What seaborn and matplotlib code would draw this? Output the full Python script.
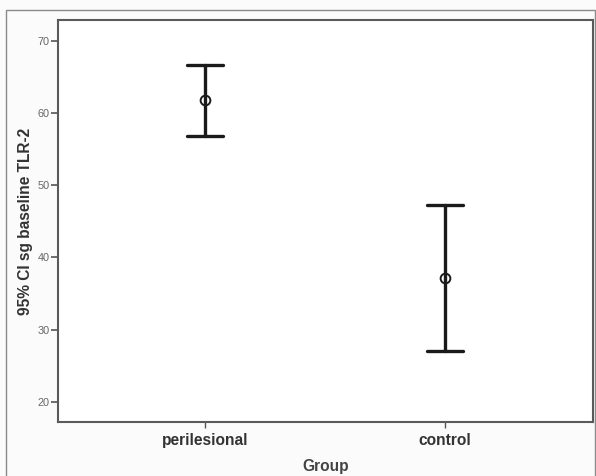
import numpy as np
import pandas as pd
import matplotlib
matplotlib.use("Agg")
import matplotlib.pyplot as plt
import seaborn as sns
from matplotlib.patches import Rectangle

# Group summaries: 95% CI bounds and mean of sg baseline TLR-2
groups = ["perilesional", "control"]
ci_lower = [56.8, 27.0]
means = [61.8, 37.1]
ci_upper = [66.7, 47.2]

# Long form: median of (lower, mean, upper) is the mean, full range is the CI
long = pd.DataFrame({
    "Group": np.repeat(groups, 3),
    "value": np.ravel(np.column_stack([ci_lower, means, ci_upper])),
})

sns.set_theme(style="white")
plt.rcParams["font.family"] = ["Liberation Sans", "DejaVu Sans"]

fig = plt.figure(figsize=(5.96, 4.76), dpi=100)
fig.patch.set_facecolor("#fbfbfb")
ax = fig.add_axes([58 / 596, 1 - 422 / 476, 535 / 596, 402 / 476])
ax.set_facecolor("white")

sns.pointplot(
    data=long, x="Group", y="value", order=groups,
    estimator="median", errorbar=("pi", 100),
    capsize=0.15, linestyle="none", color="#1a1a1a",
    marker="o", markersize=7, markerfacecolor="none",
    markeredgewidth=1.4, err_kws={"linewidth": 2.4}, ax=ax,
)

ax.set_xlim(-0.612, 1.617)
ax.set_ylim(17.2, 72.9)
ax.set_yticks([20, 30, 40, 50, 60, 70])

for s in ax.spines.values():
    s.set_color("#5a5a5a")
    s.set_linewidth(1.5)

ax.tick_params(axis="y", direction="out", length=5, width=1.2, color="#555555",
               labelsize=7.8, labelcolor="#666666", pad=1, left=True)
ax.tick_params(axis="x", direction="out", length=4, width=1.0, color="#555555",
               labelsize=11.2, labelcolor="#333333", pad=4, bottom=True)
for lbl in ax.get_xticklabels():
    lbl.set_fontweight("bold")

ax.set_xlabel("Group", fontsize=11.2, fontweight="bold", color="#444444", labelpad=8)
ax.set_ylabel("95% CI sg baseline TLR-2", fontsize=11.2, fontweight="bold",
              color="#333333", labelpad=3)

# Outer frame around the chart
fig.patches.append(Rectangle((6 / 596, -0.05), 589 / 596, 1.05 - 10 / 476,
                             transform=fig.transFigure, fill=False,
                             edgecolor="#8a8a8a", linewidth=1.0))

fig.savefig("out.png", dpi=100)
